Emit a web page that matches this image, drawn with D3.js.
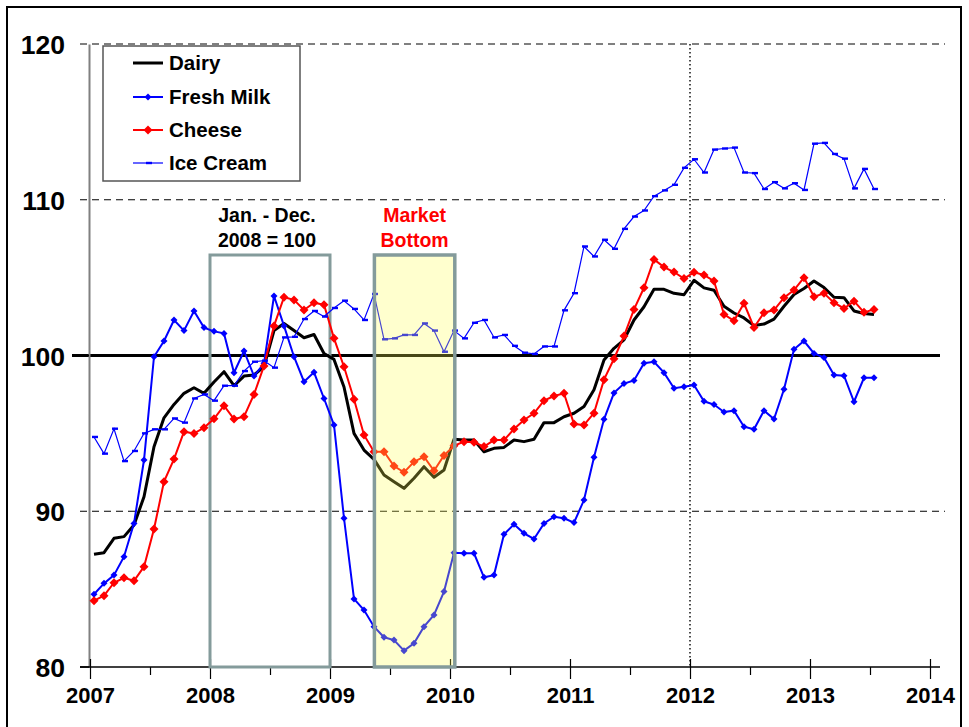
<!DOCTYPE html>
<html>
<head>
<meta charset="utf-8">
<script src="https://cdn.jsdelivr.net/npm/d3@7"></script>
<style>
html,body{margin:0;padding:0;background:#fff;}
svg{display:block;}
text{font-family:"Liberation Sans",Arial,sans-serif;font-weight:bold;}
</style>
</head>
<body>
<svg id="chart" width="969" height="727"></svg>
<script>
// ---- Data (monthly, Jan 2007 - Jul 2013) ----
const startYear = 2007;
const seriesNames = ["Dairy", "Fresh Milk", "Cheese", "Ice Cream"];
const dairy = [
  87.24, 87.34, 88.26, 88.37, 89.12, 90.93, 94.14, 96.0, 96.86, 97.57, 97.93, 97.57,
  98.3, 98.96, 98.06, 98.68, 98.75, 99.28, 101.6, 102.06, 101.6, 101.14, 101.35, 100.13,
  99.75, 97.98, 95.0, 93.93, 93.33, 92.33, 91.9, 91.47, 92.12, 92.86, 92.18, 92.65,
  94.62, 94.57, 94.57, 93.82, 94.04, 94.1, 94.57, 94.47, 94.62, 95.69, 95.69, 96.07,
  96.29, 96.72, 97.8, 99.71, 100.46, 101.0, 102.28, 103.13, 104.25, 104.25, 103.99, 103.9,
  104.83, 104.34, 104.19, 103.16, 102.73, 102.41, 101.92, 102.02, 102.34, 103.16, 103.92, 104.3,
  104.78, 104.36, 103.74, 103.71, 102.86, 102.7, 102.64
];
const freshMilk = [
  84.67, 85.37, 85.9, 87.08, 89.22, 93.29, 99.92, 100.93, 102.28, 101.6, 102.86, 101.79,
  101.55, 101.42, 98.89, 100.29, 98.68, 99.5, 103.82, 101.9, 99.92, 98.32, 98.92, 97.24,
  95.54, 89.55, 84.37, 83.66, 82.59, 81.91, 81.73, 81.05, 81.52, 82.59, 83.34, 84.84,
  87.34, 87.3, 87.3, 85.76, 85.9, 88.52, 89.16, 88.58, 88.22, 89.22, 89.65, 89.55,
  89.27, 90.72, 93.46, 95.9, 97.6, 98.2, 98.4, 99.5, 99.6, 98.9, 97.9, 98.0,
  98.1, 97.06, 96.85, 96.37, 96.46, 95.43, 95.26, 96.46, 95.92, 97.83, 100.4, 100.93,
  100.13, 99.87, 98.75, 98.7, 97.03, 98.57, 98.57
];
const cheese = [
  84.26, 84.58, 85.41, 85.73, 85.54, 86.44, 88.86, 91.9, 93.35, 95.11, 95.0, 95.36,
  95.94, 96.78, 95.92, 96.07, 97.5, 99.33, 101.9, 103.74, 103.57, 102.92, 103.39, 103.26,
  101.1, 99.28, 97.19, 94.9, 93.82, 93.82, 92.9, 92.5, 93.18, 93.5, 92.6, 93.58,
  94.2, 94.47, 94.43, 94.15, 94.57, 94.57, 95.28, 95.86, 96.29, 97.1, 97.4, 97.57,
  95.6, 95.54, 96.3, 98.45, 99.79, 101.25, 102.96, 104.35, 106.17, 105.68, 105.36, 104.94,
  105.34, 105.17, 104.78, 102.64, 102.23, 103.35, 101.8, 102.75, 102.92, 103.71, 104.2, 105.0,
  103.77, 103.99, 103.39, 103.02, 103.49, 102.77, 102.96
];
const iceCream = [
  94.77, 93.7, 95.3, 93.22, 93.87, 95.0, 95.26, 95.26, 95.96, 95.69, 97.24, 97.5,
  97.1, 98.06, 98.06, 99.0, 99.6, 99.67, 99.22, 101.16, 101.2, 102.34, 102.86, 102.5,
  103.05, 103.52, 102.99, 102.28, 103.95, 101.04, 101.1, 101.32, 101.32, 102.06, 101.6, 100.24,
  101.6, 101.1, 102.1, 102.28, 101.16, 101.32, 100.62, 100.18, 100.1, 100.58, 100.58, 102.9,
  104.0, 107.0, 106.36, 107.43, 106.85, 108.13, 108.92, 109.31, 110.23, 110.6, 110.96, 112.05,
  112.6, 111.75, 113.22, 113.29, 113.35, 111.75, 111.71, 110.69, 111.13, 110.73, 111.06, 110.63,
  113.6, 113.65, 112.94, 112.64, 110.73, 111.98, 110.69
];
const xTickYears = [2007, 2008, 2009, 2010, 2011, 2012, 2013, 2014];
const xMinorTicks = [2007.5, 2008.5, 2009.5, 2010.5, 2011.5, 2012.5, 2013.5];
const yTicks = [80, 90, 100, 110, 120];
const baseBox = [2008, 2009];          // Jan - Dec 2008 = 100
const bottomBox = [2009.37, 2010.04];  // Market Bottom
const baseLabel = ["Jan. - Dec.", "2008 = 100"];
const bottomLabel = ["Market", "Bottom"];

// ---- Scales ----
const svg = d3.select("#chart");
const x = d3.scaleLinear().domain([2007, 2014]).range([90, 930]);
const y = d3.scaleLinear().domain([80, 120]).range([667, 44]);
const xm = i => x(startYear + (i + 0.4) / 12);

// outer frame
svg.append("rect").attr("x", 7).attr("y", 7).attr("width", 954).attr("height", 745)
  .attr("fill", "none").attr("stroke", "#000").attr("stroke-width", 2);

// gridlines
[90, 110, 120].forEach(v => {
  svg.append("line").attr("x1", 80).attr("x2", 945).attr("y1", y(v)).attr("y2", y(v))
    .attr("stroke", "#000").attr("stroke-width", 1).attr("stroke-dasharray", "7,5");
});
svg.append("line").attr("x1", 72).attr("x2", 940).attr("y1", y(100)).attr("y2", y(100))
  .attr("stroke", "#000").attr("stroke-width", 3);

// vertical dotted at 2012
svg.append("line").attr("x1", x(2012)).attr("x2", x(2012)).attr("y1", y(120)).attr("y2", y(80))
  .attr("stroke", "#000").attr("stroke-width", 1.4).attr("stroke-dasharray", "1.5,2.5");

// y axis
const yAxis = d3.axisLeft(y).tickValues(yTicks).tickSize(0).tickPadding(24).tickFormat(d3.format("d"));
const gy = svg.append("g").attr("transform", `translate(89,0)`).call(yAxis);
gy.select(".domain").attr("stroke", "#808080").attr("stroke-width", 2);
gy.selectAll("text").attr("font-size", 26.5).attr("fill", "#000")
  .attr("font-family", "Liberation Sans, Arial, sans-serif").attr("font-weight", "bold")
  .attr("dy", "0.36em");
[80, 100].forEach(v => {
  svg.append("line").attr("x1", 80).attr("x2", 89).attr("y1", y(v)).attr("y2", y(v))
    .attr("stroke", "#000").attr("stroke-width", 1.5);
});

// x axis
svg.append("line").attr("x1", x(2007) - 10).attr("x2", x(2014) + 10).attr("y1", y(80)).attr("y2", y(80))
  .attr("stroke", "#000").attr("stroke-width", 1.5);
const xAxis = d3.axisBottom(x).tickValues(xTickYears).tickFormat(d3.format("d"))
  .tickSizeInner(12).tickSizeOuter(0).tickPadding(8);
const gx = svg.append("g").attr("transform", `translate(0,${y(80)})`).call(xAxis);
gx.select(".domain").remove();
gx.selectAll(".tick line").attr("y1", -8).attr("y2", 12).attr("stroke", "#000").attr("stroke-width", 1.2);
gx.selectAll("text").attr("font-size", 22).attr("fill", "#000")
  .attr("font-family", "Liberation Sans, Arial, sans-serif").attr("font-weight", "bold");
const xMinor = d3.axisBottom(x).tickValues(xMinorTicks).tickSize(8).tickFormat("");
const gxm = svg.append("g").attr("transform", `translate(0,${y(80)})`).call(xMinor);
gxm.select(".domain").remove();
gxm.selectAll(".tick line").attr("stroke", "#000").attr("stroke-width", 1.2);

// base period box (behind lines)
svg.append("rect").attr("x", x(baseBox[0])).attr("y", 255)
  .attr("width", x(baseBox[1]) - x(baseBox[0])).attr("height", y(80) - 255)
  .attr("fill", "none").attr("stroke", "#849b9b").attr("stroke-width", 3);

// ---- Series ----
const line = d3.line().x((d, i) => xm(i)).y(d => y(d));
const g = svg.append("g");
g.append("path").datum(dairy).attr("d", line).attr("fill", "none")
  .attr("stroke", "#000").attr("stroke-width", 3).attr("stroke-linejoin", "round");

g.append("path").datum(freshMilk).attr("d", line).attr("fill", "none")
  .attr("stroke", "#0000ff").attr("stroke-width", 2);
const diamond = s => `M0,${-s}L${s},0L0,${s}L${-s},0Z`;
g.selectAll(".fm").data(freshMilk).enter().append("path")
  .attr("d", diamond(3.5)).attr("transform", (d, i) => `translate(${xm(i)},${y(d)})`)
  .attr("fill", "#0000ff");

g.append("path").datum(cheese).attr("d", line).attr("fill", "none")
  .attr("stroke", "#ff0000").attr("stroke-width", 2);
g.selectAll(".ch").data(cheese).enter().append("path")
  .attr("d", diamond(4.5)).attr("transform", (d, i) => `translate(${xm(i)},${y(d)})`)
  .attr("fill", "#ff0000");

g.append("path").datum(iceCream).attr("d", line).attr("fill", "none")
  .attr("stroke", "#0000ff").attr("stroke-width", 1.2);
g.selectAll(".ic").data(iceCream).enter().append("rect")
  .attr("x", (d, i) => xm(i) - 2).attr("y", d => y(d) - 1.2)
  .attr("width", 6).attr("height", 2.4).attr("fill", "#0000ff");

// Market bottom box (semi-transparent over lines)
svg.append("rect").attr("x", x(bottomBox[0])).attr("y", 255)
  .attr("width", x(bottomBox[1]) - x(bottomBox[0])).attr("height", y(80) - 255)
  .attr("fill", "#ffff50").attr("fill-opacity", 0.28)
  .attr("stroke", "#849b9b").attr("stroke-width", 3.5);

// annotations
const cxBase = (x(baseBox[0]) + x(baseBox[1])) / 2;
const cxBot = (x(bottomBox[0]) + x(bottomBox[1])) / 2;
baseLabel.forEach((t, k) => {
  svg.append("text").attr("x", cxBase - 3).attr("y", 222 + k * 25).attr("text-anchor", "middle")
    .attr("font-size", 19.5).attr("fill", "#000").text(t);
});
bottomLabel.forEach((t, k) => {
  svg.append("text").attr("x", cxBot).attr("y", 222 + k * 25).attr("text-anchor", "middle")
    .attr("font-size", 19.5).attr("fill", "#ff0000").text(t);
});

// ---- Legend ----
const lg = svg.append("g");
lg.append("rect").attr("x", 103).attr("y", 46).attr("width", 197).attr("height", 135)
  .attr("fill", "#fff").attr("stroke", "#555").attr("stroke-width", 1.5);
const legendY = [63, 97, 130, 163];
const legendStyle = [
  {c: "#000", w: 3, m: null},
  {c: "#0000ff", w: 2, m: "d", s: 3.5},
  {c: "#ff0000", w: 2, m: "d", s: 4.5},
  {c: "#0000ff", w: 1.2, m: "dash"}
];
seriesNames.forEach((name, k) => {
  const st = legendStyle[k], ly = legendY[k];
  lg.append("line").attr("x1", 133).attr("x2", 163).attr("y1", ly).attr("y2", ly)
    .attr("stroke", st.c).attr("stroke-width", st.w);
  if (st.m === "d") {
    lg.append("path").attr("d", diamond(st.s)).attr("transform", `translate(148,${ly})`).attr("fill", st.c);
  } else if (st.m === "dash") {
    lg.append("rect").attr("x", 146).attr("y", ly - 1.2).attr("width", 6).attr("height", 2.4).attr("fill", st.c);
  }
  lg.append("text").attr("x", 169).attr("y", ly + 7).attr("font-size", 20.5).attr("fill", "#000").text(name);
});
</script>
</body>
</html>
